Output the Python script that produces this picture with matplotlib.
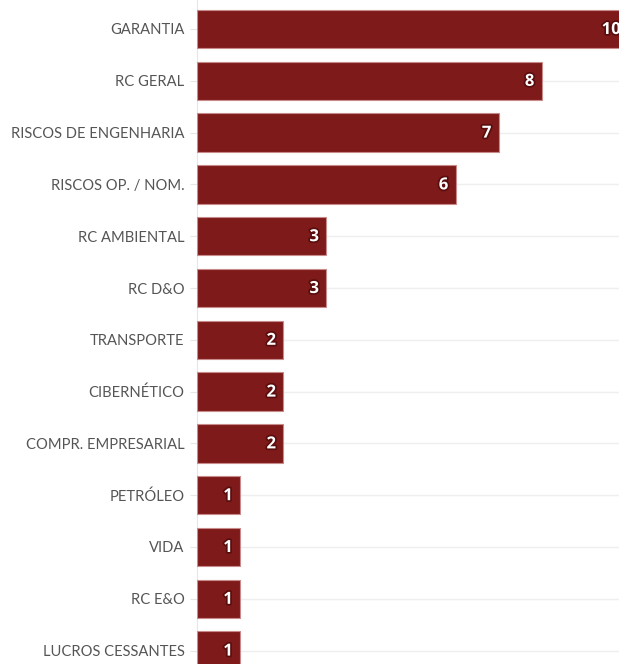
import matplotlib.pyplot as plt
import matplotlib.patheffects as pe

categorias = ['GARANTIA', 'RC GERAL', 'RISCOS DE ENGENHARIA', 'RISCOS OP. / NOM.',
              'RC AMBIENTAL', 'RC D&O', 'TRANSPORTE', 'CIBERNÉTICO',
              'COMPR. EMPRESARIAL', 'PETRÓLEO', 'VIDA', 'RC E&O', 'LUCROS CESSANTES']
valores = [10, 8, 7, 6, 3, 3, 2, 2, 2, 1, 1, 1, 1]

W, H = 619, 664
fig = plt.figure(figsize=(W / 100, H / 100), dpi=100)

# axis extends a bit past the right edge so the "10" bar gets cut like the original
px_unit = 43.1
xmax = 10.3
ax = fig.add_axes([197 / W, 0, xmax * px_unit / W, 1])

pitch = 51.8
top = 29 / pitch
ypos = list(range(len(categorias)))
ax.set_ylim((H - 29) / pitch, -top)
ax.set_xlim(0, xmax)

ax.barh(ypos, valores, height=0.74, color='#7f1a1a', edgecolor='#c88a8a', linewidth=0.8, zorder=3)

for y, v in zip(ypos, valores):
    ax.text(v - 0.17, y, str(v), ha='right', va='center', color='white',
            fontsize=12, fontweight='bold', family='Open Sans', zorder=4,
            path_effects=[pe.withStroke(linewidth=2.5, foreground='#5a0d0d')])

ax.set_yticks(ypos)
ax.set_yticklabels(categorias, family='Lato', fontsize=10.6, color='#555555')
ax.tick_params(axis='y', length=5, color='#e6e6e6', pad=4)
ax.set_xticks([])
ax.grid(axis='y', color='#eeeeee', linewidth=1, zorder=0)

for s in ['top', 'right', 'bottom']:
    ax.spines[s].set_visible(False)
ax.spines['left'].set_color('#e6e6e6')

plt.savefig('out.png', dpi=100)
